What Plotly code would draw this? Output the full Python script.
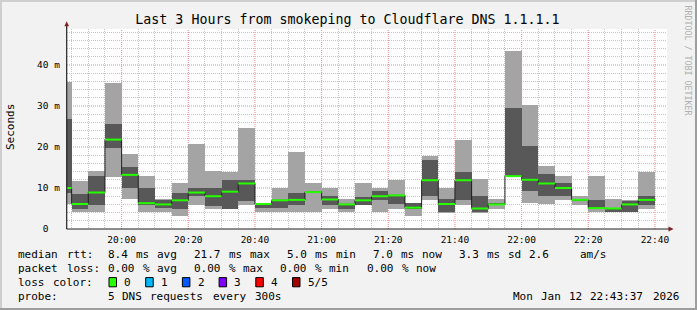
import plotly.graph_objects as go
import pandas as pd

# ---------------- data ----------------
day = "2026-01-12"
step_seconds = 300
bar_end_hhmm = ["19:45", "19:50", "19:55", "20:00", "20:05", "20:10", "20:15", "20:20",
                "20:25", "20:30", "20:35", "20:40", "20:45", "20:50", "20:55", "21:00",
                "21:05", "21:10", "21:15", "21:20", "21:25", "21:30", "21:35", "21:40",
                "21:45", "21:50", "21:55", "22:00", "22:05", "22:10", "22:15", "22:20",
                "22:25", "22:30", "22:35", "22:40"]
# sorted ping rtts (ms) of the 5 DNS requests per step
ping_1 = [6.2, 4.1, 4.1, 12.8, 7.2, 4.1, 4.1, 3.1, 5.9, 5.0, 4.9, 5.9, 4.1, 4.1, 4.1, 4.1,
          5.0, 4.1, 5.8, 4.1, 5.0, 3.1, 7.0, 4.0, 5.9, 4.0, 5.0, 12.7, 6.3, 6.0, 7.0, 5.9,
          4.1, 4.1, 4.1, 5.0]
ping_2 = [8.8, 5.0, 5.9, 19.7, 10.1, 5.9, 5.2, 5.0, 8.0, 5.5, 5.0, 6.9, 5.2, 5.2, 5.9, 8.8,
          5.9, 5.0, 5.9, 7.0, 6.0, 5.0, 8.0, 4.1, 7.0, 4.1, 5.9, 12.8, 9.2, 8.0, 8.0, 7.0,
          5.0, 4.15, 4.2, 5.9]
median = [10.0, 6.1, 8.9, 21.8, 13.2, 6.3, 6.0, 7.0, 8.9, 8.0, 9.1, 11.1, 6.1, 7.0, 7.1, 9.0,
          7.2, 6.0, 7.0, 8.0, 8.2, 5.2, 11.9, 6.1, 11.9, 5.0, 6.0, 12.9, 12.0, 11.1, 10.0, 7.1,
          5.1, 5.0, 6.0, 7.1]
ping_4 = [26.9, 8.5, 13.0, 25.7, 15.2, 10.1, 7.1, 8.9, 10.0, 10.0, 12.0, 11.9, 6.3, 7.1, 8.9, 9.2,
          8.1, 6.1, 7.9, 9.2, 8.3, 6.3, 16.9, 7.2, 14.0, 8.0, 6.1, 29.6, 20.3, 13.3, 11.1, 7.2,
          7.0, 5.1, 6.9, 8.0]
ping_5 = [35.9, 11.6, 14.1, 35.7, 18.4, 13.0, 7.2, 11.1, 20.8, 14.2, 14.0, 24.7, 6.3, 9.9, 18.9, 11.3,
          10.0, 7.2, 11.1, 10.1, 12.0, 6.3, 17.9, 10.0, 21.8, 12.3, 7.2, 43.3, 30.3, 15.4, 13.0, 8.1,
          13.0, 7.2, 7.0, 14.0]

y_tick_vals = [0, 10, 20, 30, 40]
y_tick_text = ["0\u00a0\u00a0", "10 m", "20 m", "30 m", "40 m"]
x_tick_hhmm = ["20:00", "20:20", "20:40", "21:00", "21:20", "21:40", "22:00", "22:20", "22:40"]

title_text = "Last 3 Hours from smokeping to Cloudflare DNS 1.1.1.1"
y_title = "Seconds"
watermark = "RRDTOOL / TOBI OETIKER"
loss_labels = ["0", "1", "2", "3", "4", "5/5"]
loss_colors = ["#26ff00", "#00b8ff", "#0059ff", "#7e00ff", "#ff0000", "#a00000"]
legend_line1 = [(16.7, "median rtt:"), (107.3, "8.4 ms avg"), (193.0, "21.7 ms max"),
                (286.0, "5.0 ms min"), (372.3, "7.0 ms now"), (458.3, "3.3 ms sd"),
                (528.3, "2.6"), (579.3, "am/s")]
legend_line2 = [(16.7, "packet loss:"), (107.3, "0.00 % avg"), (193.3, "0.00 % max"),
                (279.3, "0.00 % min"), (365.7, "0.00 % now")]
legend_line3_label = "loss color:"
probe_label = "probe:"
probe_text = "5 DNS requests every 300s"
stamp_text = "Mon Jan 12 22:43:37 2026"

# ---------------- layout geometry ----------------
W, H = 697, 310
L, R, T, B = 67, 30, 29, 81
PW, PH = W - L - R, H - T - B
FONT = "DejaVu Sans Mono"
CW = 7.0
MAJOR_GRID = "#e88a8a"
MINOR_GRID = "#c4c4c4"
Y_MAX = 48.78


def px(x):
    return (x - L) / PW


def py(y):
    return (T + PH - y) / PH


ends = pd.to_datetime([f"{day} {t}" for t in bar_end_hhmm])
starts = ends - pd.Timedelta(seconds=step_seconds)
centers = ends - pd.Timedelta(seconds=step_seconds / 2)
width_ms = step_seconds * 1000
x_ticks = pd.to_datetime([f"{day} {t}" for t in x_tick_hhmm])
x_minor = [t for t in ends if t not in set(x_ticks)]
y_minor = [v for v in range(2, 49, 2) if v % 10 != 0]

fig = go.Figure()
fig.add_trace(go.Bar(x=centers, base=ping_1, y=[b - a for a, b in zip(ping_1, ping_5)],
                     width=width_ms, marker=dict(color="#a4a4a4", line=dict(width=0)),
                     hoverinfo="skip", showlegend=False))
fig.add_trace(go.Bar(x=centers, base=ping_2, y=[b - a for a, b in zip(ping_2, ping_4)],
                     width=width_ms, marker=dict(color="#585858", line=dict(width=0)),
                     hoverinfo="skip", showlegend=False))
fig.add_trace(go.Scatter(x=list(starts) + [ends[-1]], y=median + [median[-1]], mode="lines",
                         line=dict(color="#202020", width=1, shape="hv"),
                         hoverinfo="skip", showlegend=False))
gx, gy = [], []
for s, e, m in zip(starts, ends, median):
    gx += [s, e, None]
    gy += [m, m, None]
fig.add_trace(go.Scatter(x=gx, y=gy, mode="lines", line=dict(color=loss_colors[0], width=2),
                         hoverinfo="skip", showlegend=False))

shapes = []
# major grid (drawn under the smoke)
for t in x_ticks:
    shapes.append(dict(type="line", xref="x", yref="paper", x0=t, x1=t, y0=0, y1=1,
                       line=dict(color=MAJOR_GRID, width=1, dash="1px,1px"), layer="below"))
for v in y_tick_vals[1:]:
    shapes.append(dict(type="line", xref="paper", yref="y", x0=0, x1=1, y0=v, y1=v,
                       line=dict(color=MAJOR_GRID, width=1, dash="1px,1px"), layer="below"))
# frame
shapes.append(dict(type="rect", xref="paper", yref="paper", x0=px(0), x1=px(W), y0=py(0), y1=py(2),
                   fillcolor="#cfcfcf", line=dict(width=0), layer="above"))
shapes.append(dict(type="rect", xref="paper", yref="paper", x0=px(0), x1=px(2), y0=py(0), y1=py(H),
                   fillcolor="#cfcfcf", line=dict(width=0), layer="above"))
shapes.append(dict(type="rect", xref="paper", yref="paper", x0=px(0), x1=px(W), y0=py(H - 2), y1=py(H),
                   fillcolor="#9e9e9e", line=dict(width=0), layer="above"))
shapes.append(dict(type="rect", xref="paper", yref="paper", x0=px(W - 2), x1=px(W), y0=py(0), y1=py(H),
                   fillcolor="#9e9e9e", line=dict(width=0), layer="above"))
# axes
shapes.append(dict(type="line", xref="paper", yref="paper", x0=px(L - 0.3), x1=px(L - 0.3),
                   y0=py(T + PH), y1=py(24), line=dict(color="#202020", width=1.2), layer="above"))
shapes.append(dict(type="line", xref="paper", yref="paper", x0=px(L - 0.5), x1=px(670),
                   y0=py(T + PH), y1=py(T + PH), line=dict(color="#202020", width=1.2), layer="above"))
shapes.append(dict(type="path", xref="paper", yref="paper",
                   path=f"M {px(64.4)} {py(26.3)} L {px(69.0)} {py(26.3)} L {px(66.7)} {py(21.3)} Z",
                   fillcolor="#802020", line=dict(width=0), layer="above"))
shapes.append(dict(type="path", xref="paper", yref="paper",
                   path=f"M {px(668.5)} {py(226.6)} L {px(668.5)} {py(231.4)} L {px(673.6)} {py(229)} Z",
                   fillcolor="#802020", line=dict(width=0), layer="above"))

annotations = []


def add_words(x0, y, s, size=11, color="#000000"):
    col = 0
    for w in s.split(" "):
        if w:
            annotations.append(dict(x=px(x0 + col * CW), y=py(y), xref="paper", yref="paper",
                                    text=w, showarrow=False, xanchor="left", yanchor="middle",
                                    borderpad=0, font=dict(family=FONT, size=size, color=color)))
        col += len(w) + 1


for x0, s in legend_line1:
    add_words(x0, 254.3, s)
for x0, s in legend_line2:
    add_words(x0, 268.3, s)
add_words(16.7, 282.3, legend_line3_label)
box_x0, box_dx = 109.0, 36.7
for i, (lab, col) in enumerate(zip(loss_labels, loss_colors)):
    bx = box_x0 + i * box_dx
    shapes.append(dict(type="rect", xref="paper", yref="paper", x0=px(bx), x1=px(bx + 7.5),
                       y0=py(286.8), y1=py(277.6), fillcolor=col,
                       line=dict(color="#000000", width=1), layer="above"))
    add_words(bx + 14.3, 282.3, lab)
add_words(16.7, 296.3, probe_label)
add_words(107.3, 296.3, probe_text)
add_words(680 - len(stamp_text) * CW, 296.3, stamp_text)

annotations.append(dict(x=px(10), y=py(127), xref="paper", yref="paper", text=y_title,
                        showarrow=False, textangle=-90, xanchor="center", yanchor="middle",
                        font=dict(family=FONT, size=11, color="#000000")))
annotations.append(dict(x=px(687.5), y=py(60), xref="paper", yref="paper", text=watermark,
                        showarrow=False, textangle=90, xanchor="center", yanchor="middle",
                        font=dict(family=FONT, size=8.3, color="#b0b0b0")))

fig.update_layout(
    width=W, height=H,
    margin=dict(l=L, r=R, t=T, b=B, pad=0),
    paper_bgcolor="#f2f2f2", plot_bgcolor="#ffffff",
    barmode="overlay", bargap=0, hovermode=False, showlegend=False,
    title=dict(text=title_text, xref="container", yref="container", x=347.5 / W, y=1 - 19.3 / H,
               xanchor="center", yanchor="middle", font=dict(family=FONT, size=13.3, color="#000000")),
    xaxis=dict(type="date", range=[f"{day} 19:43:37", f"{day} 22:43:37"],
               tickmode="array", tickvals=x_ticks, ticktext=x_tick_hhmm,
               showgrid=False,
               minor=dict(tickmode="array", tickvals=x_minor, showgrid=True,
                          gridcolor=MINOR_GRID, griddash="1px,1px", gridwidth=1),
               showline=False, zeroline=False, ticks="", ticklabelstandoff=3,
               tickfont=dict(family=FONT, size=9.5, color="#000000"), fixedrange=True),
    yaxis=dict(range=[0, Y_MAX], tickmode="array", tickvals=y_tick_vals, ticktext=y_tick_text,
               showgrid=False,
               minor=dict(tickmode="array", tickvals=y_minor, showgrid=True,
                          gridcolor=MINOR_GRID, griddash="1px,1px", gridwidth=1),
               showline=False, zeroline=False, ticks="", ticklabelstandoff=6,
               tickfont=dict(family=FONT, size=9.5, color="#000000"), fixedrange=True),
    shapes=shapes, annotations=annotations,
)

fig.write_html("out.html", config={"displayModeBar": False})
